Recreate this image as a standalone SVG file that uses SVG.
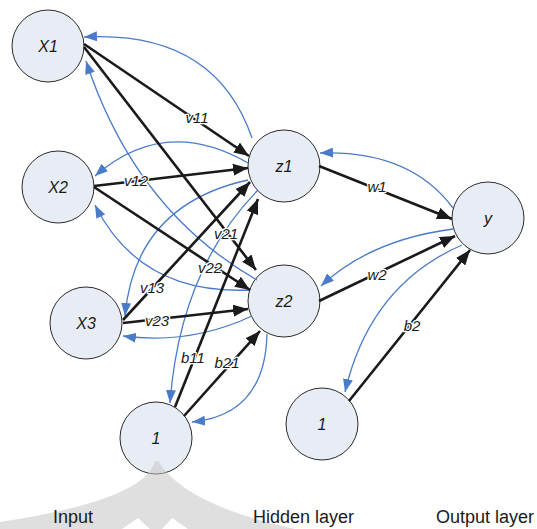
<svg xmlns="http://www.w3.org/2000/svg" width="537" height="529" viewBox="0 0 537 529">
<defs>
<style>
.node circle{fill:#e8edf5;stroke:#2b2b2b;stroke-width:1}
.node text{font-family:"Liberation Sans",Arial,sans-serif;font-style:italic;font-size:16px;fill:#1a1a1a;text-anchor:middle}
.fw{fill:none;stroke:#1a1a1a;stroke-width:2.6;marker-end:url(#ab)}
.bw{fill:none;stroke:#4a7bc8;stroke-width:1.3;marker-end:url(#au)}
.lbl{font-family:"Liberation Sans",Arial,sans-serif;font-style:italic;font-size:15px;fill:#1a1a1a;text-anchor:middle;stroke:#fff;stroke-width:2.5;paint-order:stroke;stroke-linejoin:round}
.cap{font-family:"Liberation Sans",Arial,sans-serif;font-size:18px;fill:#1a1a1a}
</style>
<marker id="ab" markerUnits="userSpaceOnUse" markerWidth="15" markerHeight="12" refX="15" refY="6" orient="auto">
<path d="M0,0 L15,6 L0,12 z" fill="#1a1a1a"/>
</marker>
<marker id="au" markerUnits="userSpaceOnUse" markerWidth="13" markerHeight="10" refX="13" refY="5" orient="auto">
<path d="M0,0 L13,5 L0,10 z" fill="#4a7bc8"/>
</marker>
</defs>
<rect width="537" height="529" fill="#fff"/>
<g id="nodes">
<g id="X1" class="node"><circle cx="48" cy="46" r="36"/><text x="48" y="52">X1</text></g>
<g id="X2" class="node"><circle cx="58" cy="187" r="36"/><text x="58" y="193">X2</text></g>
<g id="X3" class="node"><circle cx="86" cy="323" r="36"/><text x="86" y="329">X3</text></g>
<g id="z1" class="node"><circle cx="284" cy="166" r="36"/><text x="284" y="172">z1</text></g>
<g id="z2" class="node"><circle cx="284" cy="301" r="36"/><text x="284" y="307">z2</text></g>
<g id="y" class="node"><circle cx="488" cy="218" r="36"/><text x="488" y="224">y</text></g>
<g id="bias1" class="node"><circle cx="156" cy="438" r="36"/><text x="156" y="444">1</text></g>
<g id="bias2" class="node"><circle cx="322" cy="424" r="36"/><text x="322" y="430">1</text></g>
</g>
<g id="connectors">
<path class="bw" d="M252,138 Q215,30 84,37"/>
<path class="bw" d="M248,163 Q165,115 95,176"/>
<path class="bw" d="M257,280 Q135,210 86,61"/>
<path class="bw" d="M250,290 Q140,295 95,205"/>
<path class="bw" d="M248,180 Q135,205 125,316"/>
<path class="bw" d="M252,316 Q190,345 123,336"/>
<path class="bw" d="M258,190 Q180,270 170,403"/>
<path class="bw" d="M267,334 Q265,415 192,422"/>
<path class="bw" d="M453,208 Q410,150 320,153"/>
<path class="bw" d="M453,229 Q370,240 321,286"/>
<path class="bw" d="M462,245 Q370,285 345,392"/>
<path class="fw" d="M84,44 L249,156"/>
<path class="fw" d="M84,47 L256,270"/>
<path class="fw" d="M94,186 L248,168"/>
<path class="fw" d="M94,187 L250,290"/>
<path class="fw" d="M123,320 L250,182"/>
<path class="fw" d="M123,323 L248,309"/>
<path class="fw" d="M175,407 L258,199"/>
<path class="fw" d="M184,416 L260,331"/>
<path class="fw" d="M319,166 L452,219"/>
<path class="fw" d="M319,301 L455,236"/>
<path class="fw" d="M349,401 L470,250"/>
<text class="lbl" x="197" y="123">v11</text>
<text class="lbl" x="136" y="186">v12</text>
<text class="lbl" x="152" y="293">v13</text>
<text class="lbl" x="226" y="239">v21</text>
<text class="lbl" x="210" y="273">v22</text>
<text class="lbl" x="157" y="326">v23</text>
<text class="lbl" x="193" y="363">b11</text>
<text class="lbl" x="227" y="368">b21</text>
<text class="lbl" x="377" y="192">w1</text>
<text class="lbl" x="377" y="280">w2</text>
<text class="lbl" x="412" y="331">b2</text>
</g>
<g id="watermark" opacity="0.55">
<path d="M155,461 Q145,500 0,522 L0,529 L295,529 Q185,505 158,461 Z" fill="#c4c4c4"/>
</g>
<path d="M122,529 L138,518 L150,529 Z M162,529 L172,518 L188,529 Z" fill="#fff"/>
<text class="cap" x="53" y="523">Input</text>
<text class="cap" x="253" y="523">Hidden layer</text>
<text class="cap" x="436" y="523">Output layer</text>
</svg>
